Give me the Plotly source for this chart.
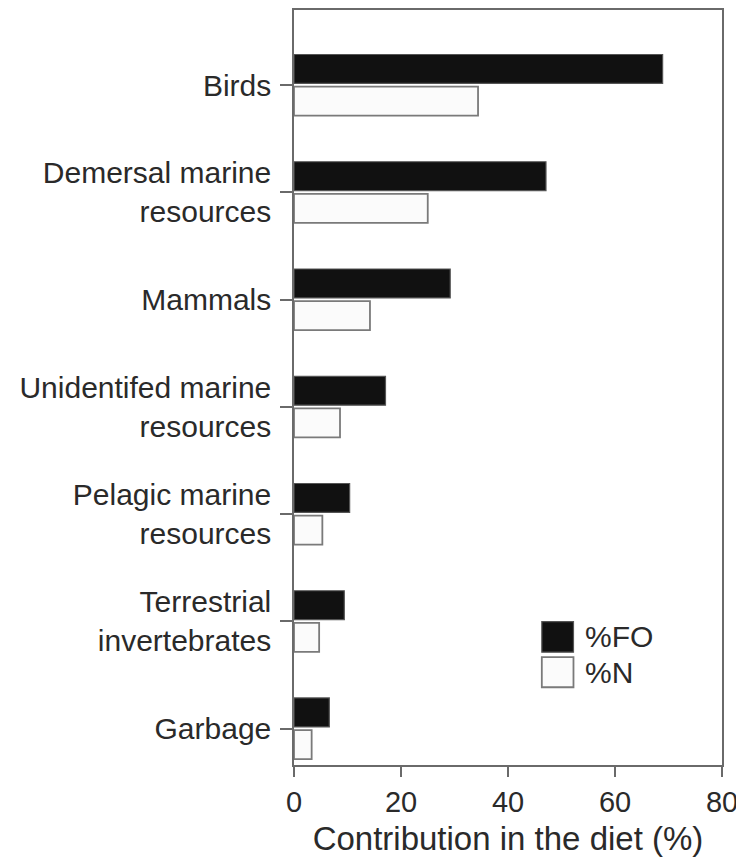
import plotly.graph_objects as go

categories = ["Birds", "Demersal marine<br>resources", "Mammals",
              "Unidentifed marine<br>resources", "Pelagic marine<br>resources",
              "Terrestrial<br>invertebrates", "Garbage"]
fo_values = [68.9, 47.1, 29.2, 17.1, 10.4, 9.4, 6.6]
n_values = [34.4, 25.0, 14.2, 8.6, 5.3, 4.7, 3.3]
x_ticks = [0, 20, 40, 60, 80]
series_names = ["%FO", "%N"]

FONT = "Liberation Sans, Arial, sans-serif"
TXT = "#2a2a2a"
AX = "#6a6a6a"

fig = go.Figure()
fig.add_trace(go.Bar(y=categories, x=fo_values, orientation="h", name=series_names[0],
                     marker=dict(color="#111111", line=dict(color="#555555", width=1.2)),
                     showlegend=False))
fig.add_trace(go.Bar(y=categories, x=n_values, orientation="h", name=series_names[1],
                     marker=dict(color="#fbfbfb", line=dict(color="#7a7a7a", width=1.8)),
                     showlegend=False))

# manual legend (large swatches as in the reference)
fig.add_shape(type="rect", xref="paper", yref="paper", x0=0.579, x1=0.653, y0=0.1495, y1=0.190,
              fillcolor="#111111", line=dict(color="#555555", width=1.2))
fig.add_shape(type="rect", xref="paper", yref="paper", x0=0.579, x1=0.653, y0=0.103, y1=0.143,
              fillcolor="#fbfbfb", line=dict(color="#7a7a7a", width=1.8))
fig.add_annotation(xref="paper", yref="paper", x=0.676, y=0.170, text=series_names[0],
                   showarrow=False, xanchor="left", yanchor="middle",
                   font=dict(family=FONT, size=30, color=TXT))
fig.add_annotation(xref="paper", yref="paper", x=0.676, y=0.1227, text=series_names[1],
                   showarrow=False, xanchor="left", yanchor="middle",
                   font=dict(family=FONT, size=30, color=TXT))

# page body adds an 8px margin; the figure is sized to sit inside the 744x865 window
fig.update_layout(
    width=736, height=849,
    margin=dict(l=286, r=22, t=2, b=92),
    paper_bgcolor="white", plot_bgcolor="white",
    barmode="group", bargap=0.4, bargroupgap=0.1,
    font=dict(family=FONT, size=30, color=TXT),
    showlegend=False,
)
fig.update_xaxes(
    range=[0, 80], tickvals=x_ticks, ticks="outside", ticklen=10, tickwidth=1.5, tickcolor=AX,
    showline=True, linecolor=AX, linewidth=1.5, mirror=True, showgrid=False, zeroline=False,
    tickfont=dict(family=FONT, size=29, color=TXT), automargin=False,
    title=dict(text="Contribution in the diet (%)", font=dict(family=FONT, size=33, color=TXT), standoff=20),
)
fig.update_yaxes(
    type="category", categoryorder="array", categoryarray=categories,
    range=[6.34, -0.70], ticks="outside", ticklen=12, tickwidth=1.5, tickcolor=AX,
    showline=True, linecolor=AX, linewidth=1.5, mirror=True, showgrid=False, zeroline=False,
    tickfont=dict(family=FONT, size=30, color=TXT), ticklabelstandoff=3, automargin=False,
)

fig.write_html("out.html")
